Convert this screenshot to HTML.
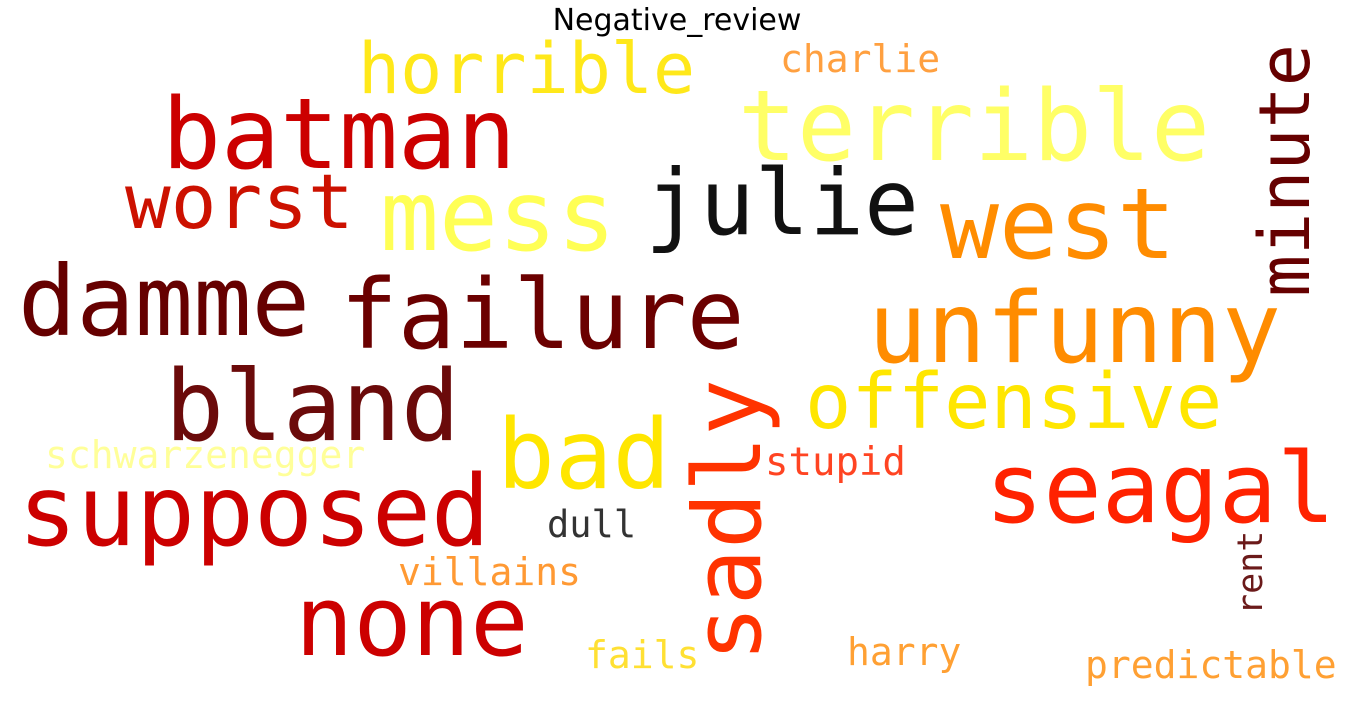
<!DOCTYPE html>
<html><head><meta charset="utf-8"><style>
html,body{margin:0;padding:0;background:#fff;}
svg{display:block;}
text{font-family:"DejaVu Sans Mono","Liberation Mono",monospace;}
</style></head><body>
<svg width="1353" height="713" viewBox="0 0 1353 713">
<text x="677" y="30" text-anchor="middle" font-size="30" style="font-family:'DejaVu Sans','Liberation Sans',sans-serif" fill="#000">Negative_review</text>
<g id="words"></g>
</svg>
<script>
const words = ["horrible","charlie","terrible","batman","worst","mess","julie","west","damme","failure","unfunny","bland","offensive","bad","schwarzenegger","stupid","seagal","supposed","dull","villains","none","fails","harry","predictable","minute","sadly","rent"];
const sizes = [70,38,98,98,76,98,91,98,97,96,98,98,77,96,38,39,97,98,37,38,97,38,38,38,70,94,35];
const colors = ["#FFE81A","#FFA040","#FFFF66","#CC0000","#CC1100","#FFFF55","#111111","#FF8C00","#660000","#6B0000","#FF8C00","#6B0A0A","#FFE600","#FFE600","#FFFF99","#FF4422","#FF2200","#CC0000","#333333","#FF9933","#CC0000","#FFE033","#FFA033","#FFA033","#660000","#FF3300","#6B1A1A"];
const xs = [358,780,738,162,125,380,645,940,18,340,868,165,805,497,45,765,985,18,547,398,295,585,847,1085,1309,760,1262];
const ys = [93,72,160,168,228,250,234,258,335,348,362,440,428,488,468,475,522,545,537,585,655,668,665,678,297,662,615];
const vertical = [0,0,0,0,0,0,0,0,0,0,0,0,0,0,0,0,0,0,0,0,0,0,0,0,1,1,1];
const g = document.getElementById('words');
const NS = 'http://www.w3.org/2000/svg';
words.forEach((w,i)=>{
  const t = document.createElementNS(NS,'text');
  t.textContent = w;
  t.setAttribute('font-size', sizes[i]);
  t.setAttribute('fill', colors[i]);
  if (vertical[i]) {
    t.setAttribute('transform','translate('+xs[i]+','+ys[i]+') rotate(-90)');
  } else {
    t.setAttribute('x', xs[i]);
    t.setAttribute('y', ys[i]);
  }
  
  
  g.appendChild(t);
});
</script>
</body></html>
